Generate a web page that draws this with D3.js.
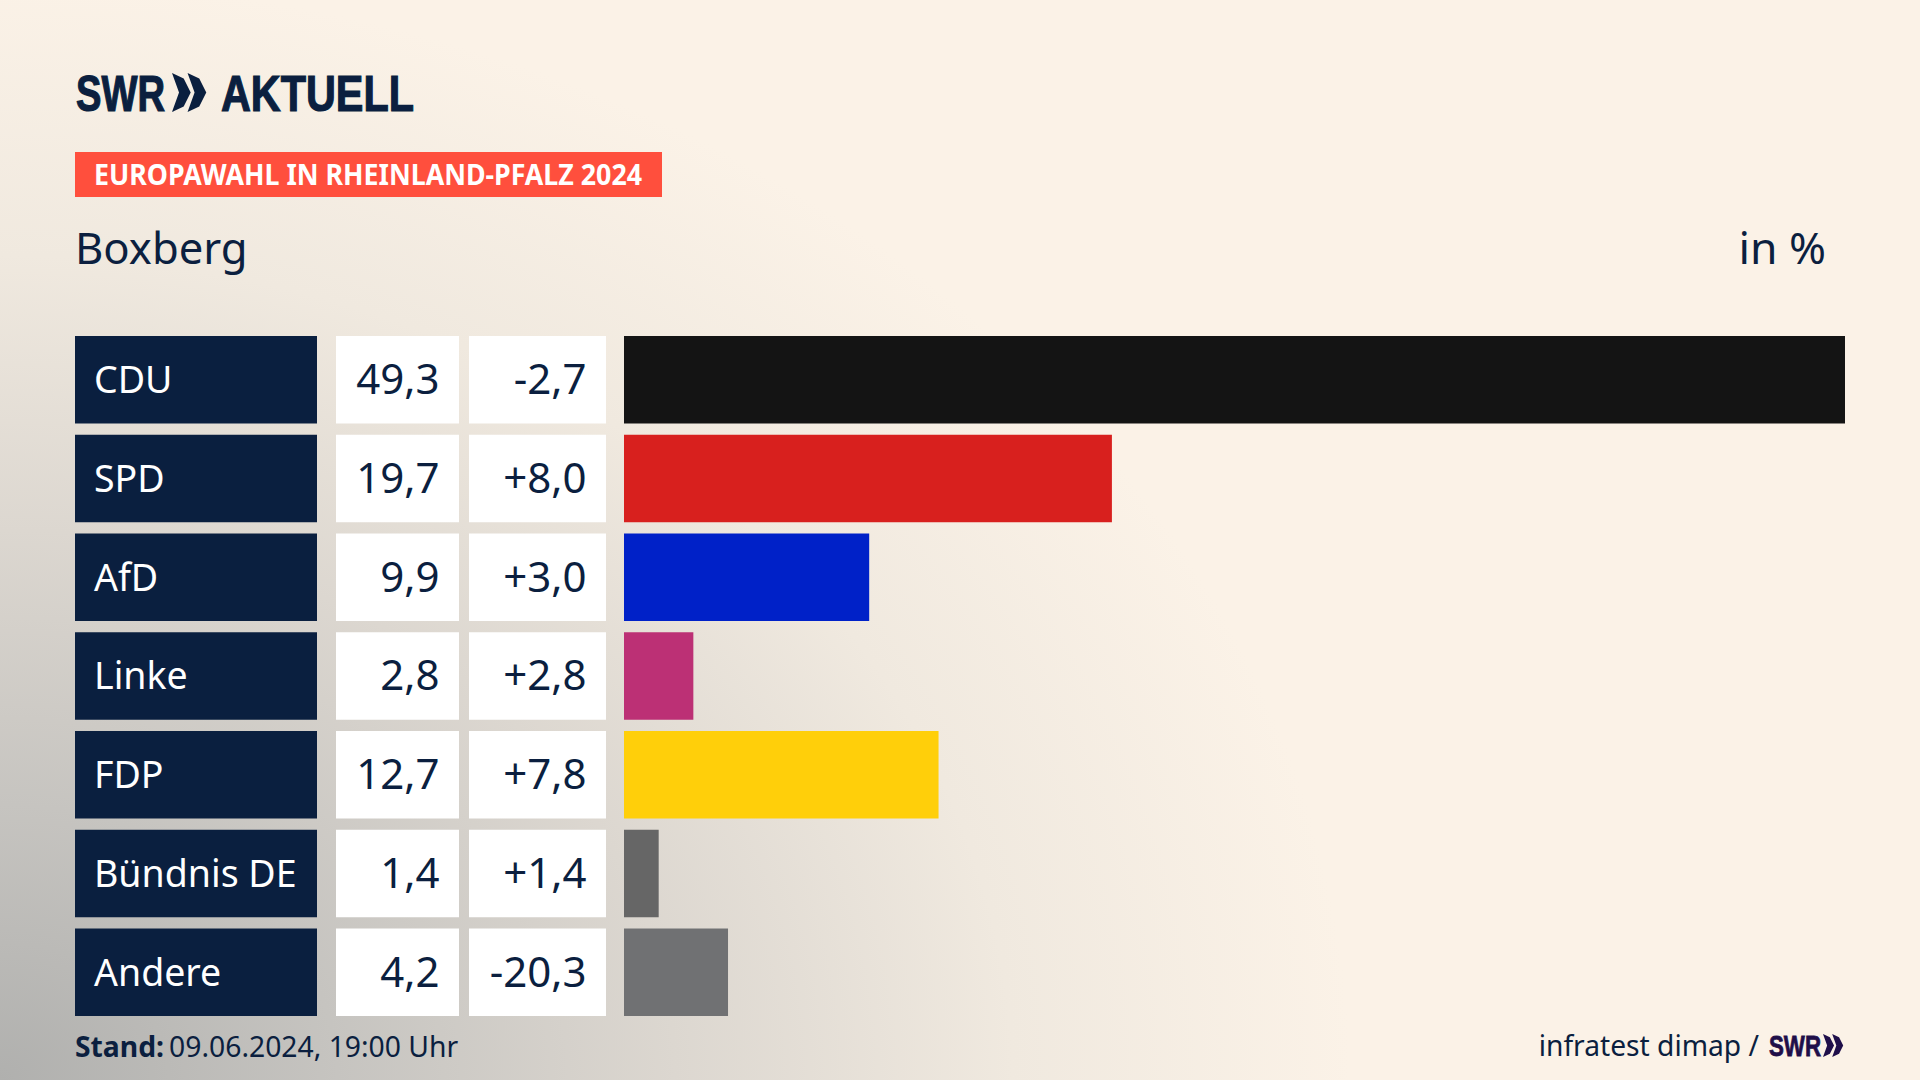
<!DOCTYPE html>
<html lang="de">
<head>
  <meta charset="UTF-8">
  <title>Europawahl in Rheinland-Pfalz 2024 - Boxberg</title>
  <script src="https://d3js.org/d3.v7.min.js"></script>
  <style>
    html, body { margin: 0; padding: 0; background: #fbf2e7; overflow: hidden; }
    svg { display: block; }
    text { font-family: "Noto Sans", sans-serif; fill: #0b1f3f; }
  </style>
</head>
<body>
<div id="chart"></div>

<script>
  // Werte aus der Grafik
  const parties = ["CDU", "SPD", "AfD", "Linke", "FDP", "Bündnis DE", "Andere"];
  const shares = [49.3, 19.7, 9.9, 2.8, 12.7, 1.4, 4.2];
  const changes = [-2.7, 8.0, 3.0, 2.8, 7.8, 1.4, -20.3];
  const partyColors = ["#141414", "#d8201e", "#0021c8", "#bc3075", "#ffcf0a", "#666666", "#707173"];

  const width = 1920;
  const height = 1080;
  const navy = "#0a1f3f";

  const de = d3.formatLocale({ decimal: ",", thousands: ".", grouping: [3], currency: ["", " €"], minus: "-" });
  const fmtShare = de.format(".1f");
  const fmtChange = de.format("+.1f");

  const svg = d3.select("#chart").append("svg")
    .attr("width", width)
    .attr("height", height);

  // Hintergrund: heller Ton, von unten links grau auslaufend
  const grad = svg.append("defs").append("radialGradient")
    .attr("id", "bg")
    .attr("gradientUnits", "userSpaceOnUse")
    .attr("cx", 0).attr("cy", 0).attr("r", 1)
    .attr("gradientTransform", `translate(0, ${height}) scale(1350, 1100)`);
  [[0, "#b0b0ae"], [0.25, "#c6c4c0"], [0.5, "#dcd7d0"], [0.75, "#f0e9df"], [1, "#fbf2e7"]].forEach(s => {
    grad.append("stop").attr("offset", s[0]).attr("stop-color", s[1]);
  });
  svg.append("rect").attr("width", width).attr("height", height).attr("fill", "url(#bg)");

  // Skalen
  const y = d3.scaleBand().domain(parties).range([336, 1016]).paddingInner(0.114);
  const x = d3.scaleLinear().domain([0, d3.max(shares)]).range([624, 1845]);

  const rows = parties.map((p, i) => ({ party: p, share: shares[i], change: changes[i], color: partyColors[i] }));

  const row = svg.selectAll("g.row").data(rows).enter().append("g")
    .attr("class", "row")
    .attr("transform", d => `translate(0, ${y(d.party)})`);

  const bw = y.bandwidth();

  row.append("rect").attr("x", 75).attr("width", 242).attr("height", bw).attr("fill", navy);
  row.append("rect").attr("x", 336).attr("width", 123).attr("height", bw).attr("fill", "#fff");
  row.append("rect").attr("x", 469).attr("width", 137).attr("height", bw).attr("fill", "#fff");
  row.append("rect")
    .attr("x", x(0))
    .attr("width", d => x(d.share) - x(0))
    .attr("height", bw)
    .attr("fill", d => d.color);

  const baseline = bw / 2 + 14.5;
  row.append("text").attr("x", 94).attr("y", baseline - 1)
    .style("font-size", "37.5px").style("fill", "#fff")
    .text(d => d.party);
  row.append("text").attr("x", 439.5).attr("y", baseline).attr("text-anchor", "end")
    .style("font-size", "42px")
    .text(d => fmtShare(d.share));
  row.append("text").attr("x", 586.5).attr("y", baseline).attr("text-anchor", "end")
    .style("font-size", "42px")
    .text(d => fmtChange(d.change));

  // Logo oben
  function chevrons(g, h) {
    // zwei Pfeilspitzen, Hoehe h
    const w = h * 0.42, t = h * 0.3;
    [0, w * 0.95].forEach(dx => {
      g.append("path")
        .attr("d", `M${dx},0 L${dx + t},${h * 0.14} L${dx + w + t * 0.2},${h / 2} L${dx + t},${h * 0.86} L${dx},${h} L${dx + w - t * 0.8},${h / 2} Z`);
    });
  }

  svg.append("text").attr("x", 76).attr("y", 111)
    .attr("textLength", 89).attr("lengthAdjust", "spacingAndGlyphs")
    .style("font-family", "'Liberation Sans Narrow', 'Liberation Sans', sans-serif")
    .style("font-size", "50px").style("font-weight", 700)
    .style("stroke", navy).style("stroke-width", 1.2)
    .text("SWR");
  chevrons(svg.append("g").attr("transform", "translate(172, 73)").attr("fill", navy), 39);
  svg.append("text").attr("x", 221).attr("y", 111)
    .attr("textLength", 193).attr("lengthAdjust", "spacingAndGlyphs")
    .style("font-family", "'Liberation Sans Narrow', 'Liberation Sans', sans-serif")
    .style("font-size", "50px").style("font-weight", 700)
    .style("stroke", navy).style("stroke-width", 1.2)
    .text("AKTUELL");

  // Titelband
  svg.append("rect").attr("x", 75).attr("y", 152).attr("width", 587).attr("height", 45).attr("fill", "#ff4f3d");
  svg.append("text").attr("x", 94).attr("y", 185)
    .attr("textLength", 548).attr("lengthAdjust", "spacingAndGlyphs")
    .style("font-size", "28px").style("font-weight", 700).style("fill", "#fff")
    .text("EUROPAWAHL IN RHEINLAND-PFALZ 2024");

  svg.append("text").attr("x", 75).attr("y", 264).style("font-size", "43.6px").text("Boxberg");
  svg.append("text").attr("x", 1826).attr("y", 264).attr("text-anchor", "end").style("font-size", "44.5px").text("in %");

  // Fusszeile
  const stand = svg.append("text").attr("x", 75).attr("y", 1057).style("font-size", "28.3px");
  stand.append("tspan").style("font-weight", 700).text("Stand:");
  stand.append("tspan").attr("dx", 5).text("09.06.2024, 19:00 Uhr");

  svg.append("text").attr("x", 1759).attr("y", 1056).attr("text-anchor", "end")
    .style("font-size", "28.2px").text("infratest dimap /");
  svg.append("text").attr("x", 1769).attr("y", 1056)
    .attr("textLength", 52).attr("lengthAdjust", "spacingAndGlyphs")
    .style("font-family", "'Liberation Sans Narrow', 'Liberation Sans', sans-serif")
    .style("font-size", "30px").style("font-weight", 700).style("fill", "#1f0f4a")
    .style("stroke", "#1f0f4a").style("stroke-width", 0.8)
    .text("SWR");
  chevrons(svg.append("g").attr("transform", "translate(1823, 1034)").attr("fill", "#1f0f4a"), 23);
</script>

</body>
</html>
